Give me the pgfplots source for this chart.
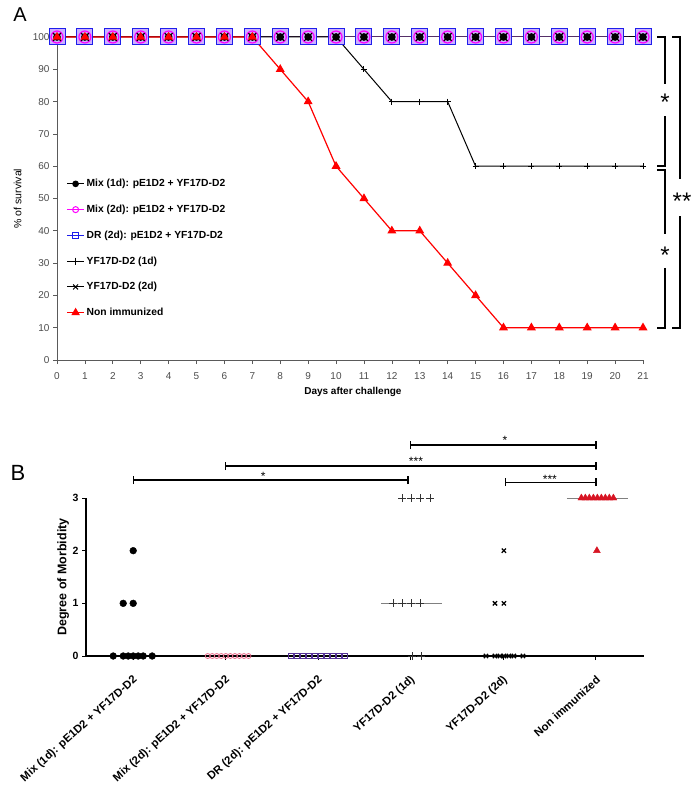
\documentclass[border=0pt]{standalone}
\usepackage{fontspec}
\setmainfont{Liberation Sans}
\setsansfont{Liberation Sans}
\usepackage{pgfplots}
\usepackage{pgfplotstable}
\pgfplotsset{compat=1.18}
\definecolor{sqblue}{RGB}{30,30,235}
\definecolor{sqfill}{RGB}{205,175,255}
\definecolor{mag}{RGB}{255,0,255}
\definecolor{nired}{RGB}{255,0,0}
\definecolor{pinkB}{RGB}{232,110,140}
\definecolor{purpB}{RGB}{85,50,150}
\definecolor{redB}{RGB}{215,20,35}
\definecolor{axgray}{RGB}{90,90,90}

% survival (%) per day
\pgfplotstableread{
day mixA mixB dr  yfA yfB ni
0   100  100  100 100 100 100
1   100  100  100 100 100 100
2   100  100  100 100 100 100
3   100  100  100 100 100 100
4   100  100  100 100 100 100
5   100  100  100 100 100 100
6   100  100  100 100 100 100
7   100  100  100 100 100 100
8   100  100  100 100 100 90
9   100  100  100 100 100 80
10  100  100  100 100 100 60
11  100  100  100 90  100 50
12  100  100  100 80  100 40
13  100  100  100 80  100 40
14  100  100  100 80  100 30
15  100  100  100 60  100 20
16  100  100  100 60  100 10
17  100  100  100 60  100 10
18  100  100  100 60  100 10
19  100  100  100 60  100 10
20  100  100  100 60  100 10
21  100  100  100 60  100 10
}\survival

\newcommand{\brkB}[3]{% x1, x2, y  (panel B bracket)
  \draw[line width=1.3pt] (axis cs:#1,#3) -- (axis cs:#2,#3);
  \draw[line width=1.3pt] (axis cs:#1,#3-0.076) -- (axis cs:#1,#3+0.076);
  \draw[line width=1.3pt] (axis cs:#2,#3-0.076) -- (axis cs:#2,#3+0.076);
}

\begin{document}
\begin{tikzpicture}
\path[use as bounding box] (0,0) rectangle (697pt,-789pt);

\node[font=\fontsize{20}{20}\selectfont] at (20pt,-15pt) {A};
\node[font=\fontsize{22}{22}\selectfont] at (18pt,-473pt) {B};

% ---------------- panel A ----------------
\begin{axis}[
  at={(57pt,-360pt)}, anchor=south west,
  scale only axis, width=586pt, height=323pt,
  xmin=0, xmax=21, ymin=0, ymax=100,
  axis x line*=bottom, axis y line*=left,
  axis line style={axgray, line width=0.8pt},
  xtick={0,1,...,21}, ytick={0,10,...,100},
  tick align=outside, major tick length=4pt,
  tick style={axgray, line width=0.7pt},
  ticklabel style={font=\fontsize{10}{11}\selectfont, text=black!70},
  xticklabel style={yshift=-5pt},
  /pgf/number format/assume math mode=true,
  xlabel={\bfseries Days after challenge},
  xlabel style={font=\fontsize{10}{11}\selectfont, at={(axis description cs:0.505,-0.1)}, anchor=center},
  ylabel={\% of survival},
  ylabel style={font=\fontsize{10.5}{11}\selectfont, at={(axis description cs:-0.067,0.5)}, anchor=center},
  clip=false,
  legend style={draw=none, fill=none, at={(axis description cs:0.016,0.566)}, anchor=north west,
    font=\bfseries\fontsize{10.3}{11}\selectfont, row sep=12.8pt, inner sep=0pt},
  legend cell align=left,
]
\addlegendimage{black, line width=1pt, mark=*, mark size=2.8pt}
\addlegendentry{Mix (1d): pE1D2 + YF17D-D2}
\addlegendimage{mag, line width=1pt, mark=o, mark size=3pt, mark options={fill=white}}
\addlegendentry{Mix (2d): pE1D2 + YF17D-D2}
\addlegendimage{sqblue, line width=1pt, mark=square, mark size=3pt, mark options={fill=white}}
\addlegendentry{DR (2d): pE1D2 + YF17D-D2}
\addlegendimage{black, line width=1pt, mark=+, mark size=3.5pt}
\addlegendentry{YF17D-D2 (1d)}
\addlegendimage{black, line width=1pt, mark=x, mark size=3.5pt}
\addlegendentry{YF17D-D2 (2d)}
\addlegendimage{nired, line width=1pt, mark=triangle*, mark size=4pt}
\addlegendentry{Non immunized}

\addplot[forget plot, sqblue, line width=1pt, mark=square*, mark size=8pt,
  mark options={fill=sqfill, draw=sqblue, line width=1pt}] table[x=day,y=dr] {\survival};
\addplot[forget plot, mag, line width=1pt, mark=o, mark size=6pt,
  mark options={line width=1.2pt}] table[x=day,y=mixB] {\survival};
\addplot[forget plot, black, line width=1pt, mark=x, mark size=5.5pt,
  mark options={line width=1.2pt}] table[x=day,y=yfB] {\survival};
\addplot[forget plot, black, line width=1pt, mark=*, mark size=3.3pt] table[x=day,y=mixA] {\survival};
\addplot[forget plot, black, line width=1pt, mark=+, mark size=3pt] table[x=day,y=yfA] {\survival};
\addplot[forget plot, nired, line width=1.2pt, mark=triangle*, mark size=4pt] table[x=day,y=ni] {\survival};

% significance brackets
\begin{scope}[line width=2.4pt]
\draw (axis cs:21.50,100) -- (axis cs:21.79,100) -- (axis cs:21.79,85.5);
\draw (axis cs:21.79,75.5) -- (axis cs:21.79,60) -- (axis cs:21.50,60);
\draw (axis cs:21.50,58.8) -- (axis cs:21.79,58.8) -- (axis cs:21.79,39);
\draw (axis cs:21.79,28.5) -- (axis cs:21.79,10) -- (axis cs:21.50,10);
\draw (axis cs:22.04,100) -- (axis cs:22.33,100) -- (axis cs:22.33,56);
\draw (axis cs:22.33,44.5) -- (axis cs:22.33,10) -- (axis cs:22.04,10);
\end{scope}
\node[anchor=base, font=\fontsize{24}{24}\selectfont, inner sep=0pt] at (axis cs:21.79,77.2) {*};
\node[anchor=base, font=\fontsize{24}{24}\selectfont, inner sep=0pt] at (axis cs:21.79,30) {*};
\node[anchor=base, font=\fontsize{24}{24}\selectfont, inner sep=0pt] at (axis cs:22.40,46.5) {**};
\end{axis}

% ---------------- panel B ----------------
\begin{axis}[
  at={(86pt,-656pt)}, anchor=south west,
  scale only axis, width=558pt, height=158pt,
  xmin=-0.51, xmax=5.52, ymin=0, ymax=3,
  axis x line*=bottom, axis y line*=left,
  axis line style={black, line width=1.4pt},
  xtick={0,1,2,3,4,5},
  xticklabels={Mix (1d): pE1D2 + YF17D-D2, Mix (2d): pE1D2 + YF17D-D2, DR (2d): pE1D2 + YF17D-D2, YF17D-D2 (1d), YF17D-D2 (2d), Non immunized},
  ytick={0,1,2,3},
  tick align=outside, major tick length=4pt,
  tick style={black, line width=1pt},
  xticklabel style={xshift=5pt, yshift=-16pt, rotate=42, anchor=east, font=\bfseries\fontsize{11.3}{12}\selectfont},
  yticklabel style={font=\bfseries\fontsize{10.5}{11}\selectfont},
  /pgf/number format/assume math mode=true,
  ylabel={\bfseries Degree of Morbidity},
  ylabel style={font=\fontsize{12.5}{13}\selectfont, at={(axis description cs:-0.041,0.5)}, anchor=center},
  clip=false,
]
% median lines
\addplot[gray, line width=0.8pt] coordinates {(2.678,1) (3.337,1)};
\addplot[gray, line width=0.8pt] coordinates {(4.687,3) (5.346,3)};
% Mix (1d)
\addplot[only marks, black, mark=*, mark size=3.4pt] coordinates {
  (-0.216,0) (-0.108,0) (-0.054,0) (0,0) (0.054,0) (0.108,0) (0.205,0)
  (-0.108,1) (0,1) (0,2)};
% Mix (2d)
\addplot[only marks, pinkB, mark=o, mark size=2.5pt, mark options={fill=white, line width=0.8pt}] coordinates {
  (0.805,0) (0.854,0) (0.903,0) (0.952,0) (1.001,0) (1.050,0) (1.099,0) (1.148,0) (1.197,0) (1.246,0)};
% DR (2d)
\addplot[only marks, purpB, mark=square, mark size=2.8pt, mark options={line width=0.9pt}] coordinates {
  (1.706,0) (1.771,0) (1.836,0) (1.900,0) (1.965,0) (2.030,0) (2.095,0) (2.160,0) (2.224,0) (2.289,0)};
% YF17D-D2 (1d)
\addplot[only marks, black!80, mark=+, mark size=4pt, mark options={line width=0.8pt}] coordinates {
  (2.905,3) (3.002,3) (3.099,3) (3.207,3)
  (2.808,1) (2.905,1) (3.002,1) (3.099,1)
  (3.013,0) (3.110,0)};
% YF17D-D2 (2d)
\addplot[only marks, black, mark=x, mark size=3pt, mark options={line width=1.3pt}] coordinates {
  (4.006,2) (3.909,1) (4.006,1)
  (3.812,0) (3.909,0) (3.963,0) (4.006,0) (4.060,0) (4.114,0) (4.212,0)};
% Non immunized
\addplot[only marks, redB, mark=triangle*, mark size=4pt] coordinates {
  (4.843,3) (4.886,3) (4.929,3) (4.973,3) (5.016,3) (5.059,3) (5.102,3) (5.145,3) (5.189,3)
  (5.011,2)};

% significance
\brkB{3}{5}{4.006}
\brkB{1}{5}{3.607}
\brkB{0}{2.97}{3.34}
\brkB{4.02}{5}{3.30}
\node[anchor=base, font=\fontsize{12}{12}\selectfont, inner sep=0pt] at (axis cs:4.017,4.02) {*};
\node[anchor=base, font=\fontsize{12}{12}\selectfont, inner sep=0pt] at (axis cs:3.056,3.625) {***};
\node[anchor=base, font=\fontsize{12}{12}\selectfont, inner sep=0pt] at (axis cs:1.404,3.33) {*};
\node[anchor=base, font=\fontsize{12}{12}\selectfont, inner sep=0pt] at (axis cs:4.503,3.28) {***};
\end{axis}
\end{tikzpicture}
\end{document}
